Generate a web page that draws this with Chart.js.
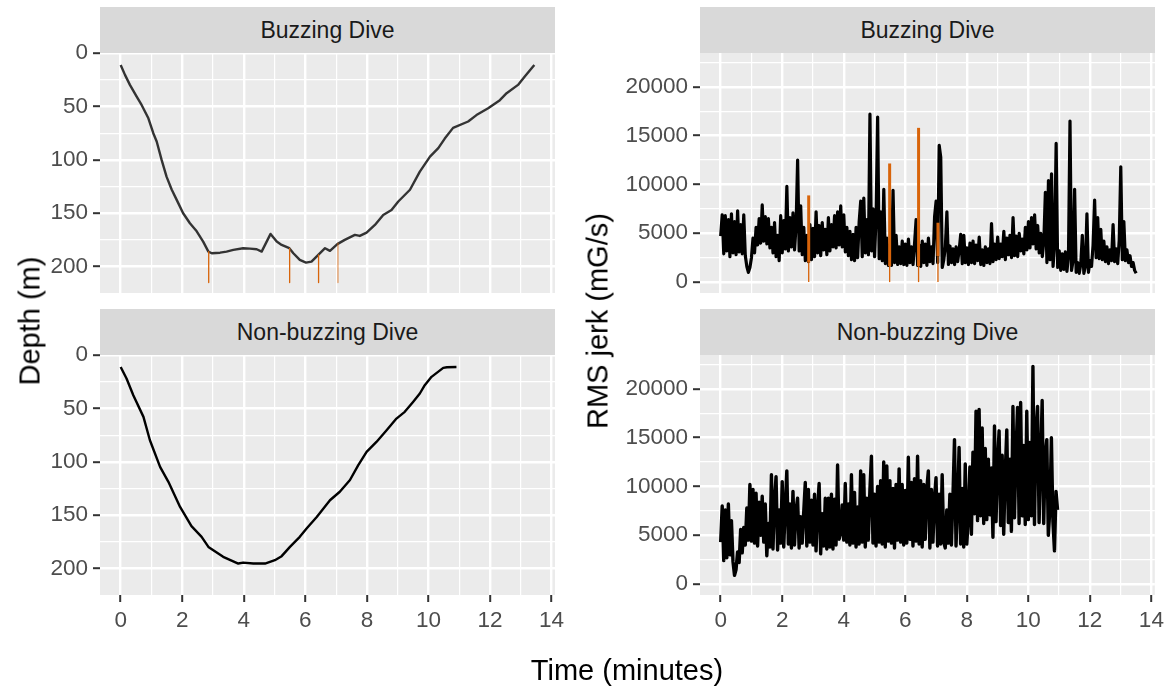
<!DOCTYPE html>
<html>
<head>
<meta charset="utf-8">
<title>Dive depth and RMS jerk</title>
<script src="https://cdn.jsdelivr.net/npm/chart.js@4.4.1/dist/chart.umd.min.js"></script>
<style>
  html, body { margin: 0; padding: 0; background: #ffffff; }
  #page { position: relative; width: 1169px; height: 688px; overflow: hidden;
          font-family: 'Liberation Sans', Arial, Helvetica, sans-serif; }
  #page canvas { position: absolute; left: 0; top: 0; }
  .strip { position: absolute; height: 46px; line-height: 47px; background: #D9D9D9;
           color: #1A1A1A; font-size: 23px; text-align: center; white-space: nowrap; }
  .title { position: absolute; color: #000000; font-size: 29px; line-height: 29px; white-space: nowrap; }
  .ytitle { transform: translate(-50%, -50%) rotate(-90deg); }
</style>
</head>
<body>
<div id="page">
  <canvas id="depthBuzz" width="1169" height="688"></canvas>
  <canvas id="jerkBuzz" width="1169" height="688"></canvas>
  <canvas id="depthNonBuzz" width="1169" height="688"></canvas>
  <canvas id="jerkNonBuzz" width="1169" height="688"></canvas>

  <div class="strip" style="left:100px; top:7px; width:455px;">Buzzing Dive</div>
  <div class="strip" style="left:700px; top:7px; width:455px;">Buzzing Dive</div>
  <div class="strip" style="left:100px; top:309px; width:455px;">Non-buzzing Dive</div>
  <div class="strip" style="left:700px; top:309px; width:455px;">Non-buzzing Dive</div>

  <div class="title ytitle" style="left:30px; top:321px;">Depth (m)</div>
  <div class="title ytitle" style="left:598px; top:321px;">RMS jerk (mG/s)</div>
  <div class="title" style="left:627px; top:656px; transform: translateX(-50%);">Time (minutes)</div>
</div>

<script>
// ---------------- data ----------------

// Depth profile of the buzzing dive (time in minutes, depth in metres)
const buzzDepthTime = [0, 0.14, 0.3, 0.52, 0.68, 0.9, 1.06, 1.17, 1.33, 1.49,
  1.66, 1.82, 2.03, 2.25, 2.47, 2.68, 2.85, 2.96, 3.23, 3.44,
  3.66, 3.98, 4.2, 4.42, 4.58, 4.87, 5.07, 5.23, 5.48, 5.61,
  5.82, 6.02, 6.2, 6.42, 6.64, 6.8, 7.04, 7.28, 7.61, 7.77,
  7.99, 8.26, 8.53, 8.8, 9.02, 9.4, 9.72, 10.05, 10.32, 10.53,
  10.8, 11.29, 11.56, 11.94, 12.32, 12.54, 12.91, 13.13, 13.44];
const buzzDepth = [11, 20.3, 29.7, 40.7, 48.5, 61, 75, 82.8, 100, 115.7,
  128, 137.5, 150, 159.4, 167, 176.6, 186, 187.5, 187, 186,
  184.4, 182.8, 183.2, 183.8, 186, 169.4, 176.6, 179.7, 182.8, 187.5,
  193.8, 196.3, 195.4, 189, 182.8, 185.3, 179, 175, 170.3, 171.3,
  168.2, 161, 151.6, 147, 139, 128, 111, 97, 89, 80,
  70, 64, 58, 51.6, 44, 37.5, 29.7, 21.9, 11];

// Depth profile of the non-buzzing dive
const nonBuzzDepthTime = [0, 0.19, 0.41, 0.74, 0.95, 1.28, 1.55, 1.93, 2.3, 2.63,
  2.85, 3.33, 3.82, 3.98, 4.31, 4.69, 5.01, 5.23, 5.5, 5.82,
  6.04, 6.37, 6.8, 7.12, 7.45, 7.72, 7.99, 8.31, 8.64, 8.96,
  9.23, 9.5, 9.72, 9.88, 10.1, 10.48, 10.6, 10.91];
const nonBuzzDepth = [11, 21.9, 37.5, 57.8, 79.7, 104.7, 118.7, 142.2, 160.3, 170.3,
  179.7, 189, 195.3, 194.4, 195.3, 195.3, 192.2, 188.4, 179.7, 170.3,
  162.5, 151.6, 136, 128, 117, 103, 90.6, 81.3, 70.3, 59.4,
  53.1, 43.8, 35.9, 28.1, 20.3, 11.9, 11.3, 11];

// Buzz events: time, depth at the event, jerk range during the buzz
const buzzTimes = [2.86, 5.49, 6.43, 7.06];
const buzzEventDepth = [186, 183, 189, 178];
const buzzMarkBottom = 215;
const buzzJerkLow = [1990, 1640, 1640, 2660];
const buzzJerkHigh = [8880, 12150, 15800, 6080];

// RMS jerk (mG/s), one value every jerkStepMin minutes from the start of the dive
const jerkStepMin = 0.05;
const buzzJerk = [
  4700, 6900, 2900, 6800, 3200, 6400, 2600, 7000, 3000, 6200,
  2800, 7300, 3100, 5900, 2900, 6900, 2700, 1600, 1000, 1500,
  2500, 4500, 3000, 5600, 3800, 6500, 4000, 7900, 4200, 6700,
  3900, 6500, 3500, 5600, 3000, 6100, 2600, 4800, 2200, 6800,
  3000, 6300, 3400, 9800, 3200, 6600, 3600, 7100, 3300, 5800,
  12500, 3200, 7800, 2800, 5600, 2200, 4800, 2100, 5900, 2300,
  5500, 2600, 7200, 3000, 5800, 2700, 6100, 3300, 5400, 2800,
  6600, 3200, 5900, 3600, 6800, 3500, 7200, 3800, 7800, 3600,
  6900, 3100, 5600, 2700, 5200, 2300, 4900, 2200, 5600, 2500,
  6200, 8300, 2600, 8600, 3000, 6400, 2800, 17200, 3200, 7500,
  2600, 6800, 16900, 2400, 7200, 2200, 9500, 1900, 4500, 1700,
  3800, 1700, 9400, 2000, 4800, 1800, 3600, 1900, 4200, 1800,
  3900, 1700, 4400, 2000, 3600, 1800, 4000, 6400, 1700, 3800,
  1600, 4200, 2000, 3900, 1700, 4500, 2100, 3600, 1900, 6700,
  8300, 2000, 14000, 12800, 1500, 2300, 3600, 7200, 1800, 3700,
  2000, 3400, 1800, 3600, 2100, 3300, 4900, 1900, 4800, 2000,
  3500, 1800, 4000, 2000, 4200, 1900, 3800, 2200, 4600, 1800,
  3300, 1700, 3600, 2000, 3400, 1900, 6000, 2100, 3900, 2300,
  4600, 2400, 3900, 2600, 5200, 2300, 4500, 2800, 4800, 2500,
  6600, 2700, 4700, 2600, 5000, 3200, 4400, 2900, 5600, 3300,
  6200, 3500, 6600, 3900, 6900, 3400, 5800, 3000, 5000, 2600,
  4200, 9200, 2000, 10400, 2300, 11100, 1600, 3800, 14200, 1500,
  3200, 1200, 2900, 1300, 3100, 1100, 2600, 16500, 1200, 2200,
  9500, 1000, 2000, 900, 1800, 4800, 900, 1600, 7000, 1000,
  2200, 1600, 3800, 8400, 2500, 6600, 2400, 5400, 2300, 4200,
  2100, 3600, 1900, 3300, 2200, 5900, 2100, 3400, 1900, 4300,
  11800, 2300, 6200, 2200, 3300, 2000, 2700, 1600, 2000, 1200,
  900];
const nonBuzzJerk = [
  4300, 8000, 2400, 7600, 2700, 8200, 3000, 6500, 2300, 900,
  1500, 3300, 2200, 5600, 3200, 5800, 4000, 7800, 4500, 10200,
  4400, 9700, 4200, 9300, 3900, 8400, 5000, 9000, 4300, 8200,
  2900, 6200, 3800, 11200, 3600, 8500, 11000, 3500, 7600, 4200,
  10500, 3800, 7900, 11600, 4100, 8200, 3700, 9500, 4000, 7600,
  8800, 3700, 6900, 4200, 7400, 10400, 3900, 9700, 4300, 8600,
  4000, 9200, 3400, 7700, 10300, 3100, 7200, 3900, 8800, 3600,
  8800, 3800, 9200, 3600, 8700, 4000, 12200, 4600, 5200, 8100,
  4500, 10300, 4300, 8200, 4000, 11200, 4200, 9400, 3800, 7900,
  4100, 11600, 4300, 11200, 3800, 8800, 4500, 9600, 13100, 4200,
  9200, 3900, 10000, 4300, 10600, 4100, 12500, 3800, 12100, 4400,
  10600, 4200, 9800, 3700, 10200, 4500, 11800, 4300, 10200, 4000,
  9600, 4200, 13000, 4600, 10400, 3900, 10800, 4400, 13100, 4100,
  10600, 3800, 10200, 4600, 9800, 11600, 3700, 9700, 4300, 8800,
  10900, 3900, 9200, 4100, 11200, 4300, 3700, 7600, 4200, 9200,
  4000, 9000, 14800, 3900, 8200, 14000, 4100, 9800, 3800, 12300,
  4100, 6800, 12000, 5100, 13500, 7200, 17700, 6500, 17900, 7000,
  16000, 6200, 13900, 6600, 12800, 7100, 11900, 4800, 16200, 6400,
  12400, 15700, 6000, 13200, 5100, 11400, 15800, 6300, 12800, 5400,
  18200, 6800, 13500, 18100, 6200, 18600, 7000, 14200, 6100, 17700,
  6600, 14500, 7000, 22300, 6100, 15800, 18200, 6300, 12600, 18800,
  6200, 13200, 14800, 5000, 7600, 15000, 6400, 3400, 9500, 7600];

// Axis breaks
const timeMajorTicks = [0, 2, 4, 6, 8, 10, 12, 14];
const timeMinorTicks = [1, 3, 5, 7, 9, 11, 13];
const depthMajorTicks = [0, 50, 100, 150, 200];
const depthMinorTicks = [25, 75, 125, 175];
const jerkMajorTicks = [0, 5000, 10000, 15000, 20000];
const jerkMinorTicks = [2500, 7500, 12500, 17500, 22500];

// ---------------- drawing ----------------
const FONT = "'Liberation Sans', Arial, Helvetica, sans-serif";
const PAGE_W = 1169, PAGE_H = 688;
const ORANGE = 'rgb(216,100,10)';
const ORANGE_LIGHT = 'rgba(216,100,10,0.6)';
const depthMarkColors = [ORANGE, ORANGE, ORANGE, ORANGE_LIGHT];

const timeRange = { min: -0.672, max: 14.112 };
const depthRange = { min: -0.2, max: 224.8 };
const jerkRange = { min: -1117, max: 23467 };

const xy = (xs, ys) => xs.map((x, i) => ({ x, y: ys[i] }));
const sampled = (vals, step) => vals.map((y, i) => ({ x: i * step, y }));

// Panel background in the plotting area
const panelBackground = {
  id: 'panelBackground',
  beforeDraw(chart) {
    const a = chart.chartArea, ctx = chart.ctx;
    ctx.save();
    ctx.fillStyle = '#EBEBEB';
    ctx.fillRect(a.left, a.top, a.right - a.left, a.bottom - a.top);
    ctx.restore();
  }
};

function scaleWithGrid(major, minor, range, opts) {
  const majorSet = new Set(major);
  const all = major.concat(minor).sort((a, b) => a - b);
  const isMajor = c => c.tick && majorSet.has(c.tick.value);
  return {
    type: 'linear',
    min: range.min,
    max: range.max,
    reverse: !!opts.reverse,
    afterBuildTicks: s => { s.ticks = all.map(v => ({ value: v })); },
    afterFit: s => {
      if (opts.width !== undefined) s.width = opts.width;
      if (opts.height !== undefined) s.height = opts.height;
    },
    grid: {
      color: '#FFFFFF',
      lineWidth: c => isMajor(c) ? 2.4 : 1.2,
      drawTicks: opts.showLabels,
      tickLength: 7,
      tickWidth: 2,
      tickColor: c => isMajor(c) ? '#333333' : 'rgba(0,0,0,0)'
    },
    border: { display: false },
    ticks: {
      display: opts.showLabels,
      autoSkip: false,
      maxRotation: 0,
      minRotation: 0,
      padding: 5,
      color: '#4D4D4D',
      font: { family: FONT, size: 22.5 },
      callback: v => majorSet.has(v) ? String(v) : ''
    }
  };
}

function line(data, color, width, order) {
  return { data, borderColor: color, borderWidth: width, pointRadius: 0,
           tension: 0, fill: false, order, borderJoinStyle: 'round' };
}

function panel(canvasId, rect, yAxisWidth, showTime, yScale, datasets) {
  const xAxisHeight = showTime ? 40 : 0;
  new Chart(document.getElementById(canvasId), {
    type: 'line',
    data: { datasets },
    options: {
      responsive: false,
      animation: false,
      devicePixelRatio: 1,
      events: [],
      layout: {
        padding: {
          left: rect.left - yAxisWidth,
          top: rect.top,
          right: PAGE_W - rect.right,
          bottom: PAGE_H - rect.bottom - xAxisHeight
        }
      },
      plugins: { legend: { display: false }, tooltip: { enabled: false } },
      scales: {
        x: scaleWithGrid(timeMajorTicks, timeMinorTicks, timeRange,
                         { showLabels: showTime, height: xAxisHeight }),
        y: yScale
      }
    },
    plugins: [panelBackground]
  });
}

// Buzz markers on the depth panel: from the dive profile down below the bottom phase
const depthMarks = buzzTimes.map((t, i) =>
  line([{ x: t, y: buzzEventDepth[i] }, { x: t, y: buzzMarkBottom }], depthMarkColors[i], 1.3, 0));

// Buzz markers on the jerk panel: thin stem from zero, thick span over the buzz
const jerkStems = buzzTimes.map((t, i) =>
  line([{ x: t, y: 0 }, { x: t, y: buzzJerkLow[i] }], ORANGE, 1.3, 0));
const jerkSpans = buzzTimes.map((t, i) =>
  line([{ x: t, y: buzzJerkLow[i] }, { x: t, y: buzzJerkHigh[i] }], ORANGE, 3, 0));

const leftPanelX = { left: 100, right: 555 };
const rightPanelX = { left: 700, right: 1155 };
const topPanelY = { top: 53, bottom: 293 };
const bottomPanelY = { top: 355, bottom: 595 };

panel('depthBuzz', { ...leftPanelX, ...topPanelY }, 100, false,
  scaleWithGrid(depthMajorTicks, depthMinorTicks, depthRange,
                { showLabels: true, reverse: true, width: 100 }),
  [line(xy(buzzDepthTime, buzzDepth), '#333333', 2.4, 1), ...depthMarks]);

panel('depthNonBuzz', { ...leftPanelX, ...bottomPanelY }, 100, true,
  scaleWithGrid(depthMajorTicks, depthMinorTicks, depthRange,
                { showLabels: true, reverse: true, width: 100 }),
  [line(xy(nonBuzzDepthTime, nonBuzzDepth), '#000000', 2.4, 1)]);

panel('jerkBuzz', { ...rightPanelX, ...topPanelY }, 120, false,
  scaleWithGrid(jerkMajorTicks, jerkMinorTicks, jerkRange,
                { showLabels: true, width: 120 }),
  [line(sampled(buzzJerk, jerkStepMin), '#000000', 3.2, 1), ...jerkStems, ...jerkSpans]);

panel('jerkNonBuzz', { ...rightPanelX, ...bottomPanelY }, 120, true,
  scaleWithGrid(jerkMajorTicks, jerkMinorTicks, jerkRange,
                { showLabels: true, width: 120 }),
  [line(sampled(nonBuzzJerk, jerkStepMin), '#000000', 3.4, 1)]);
</script>
</body>
</html>
